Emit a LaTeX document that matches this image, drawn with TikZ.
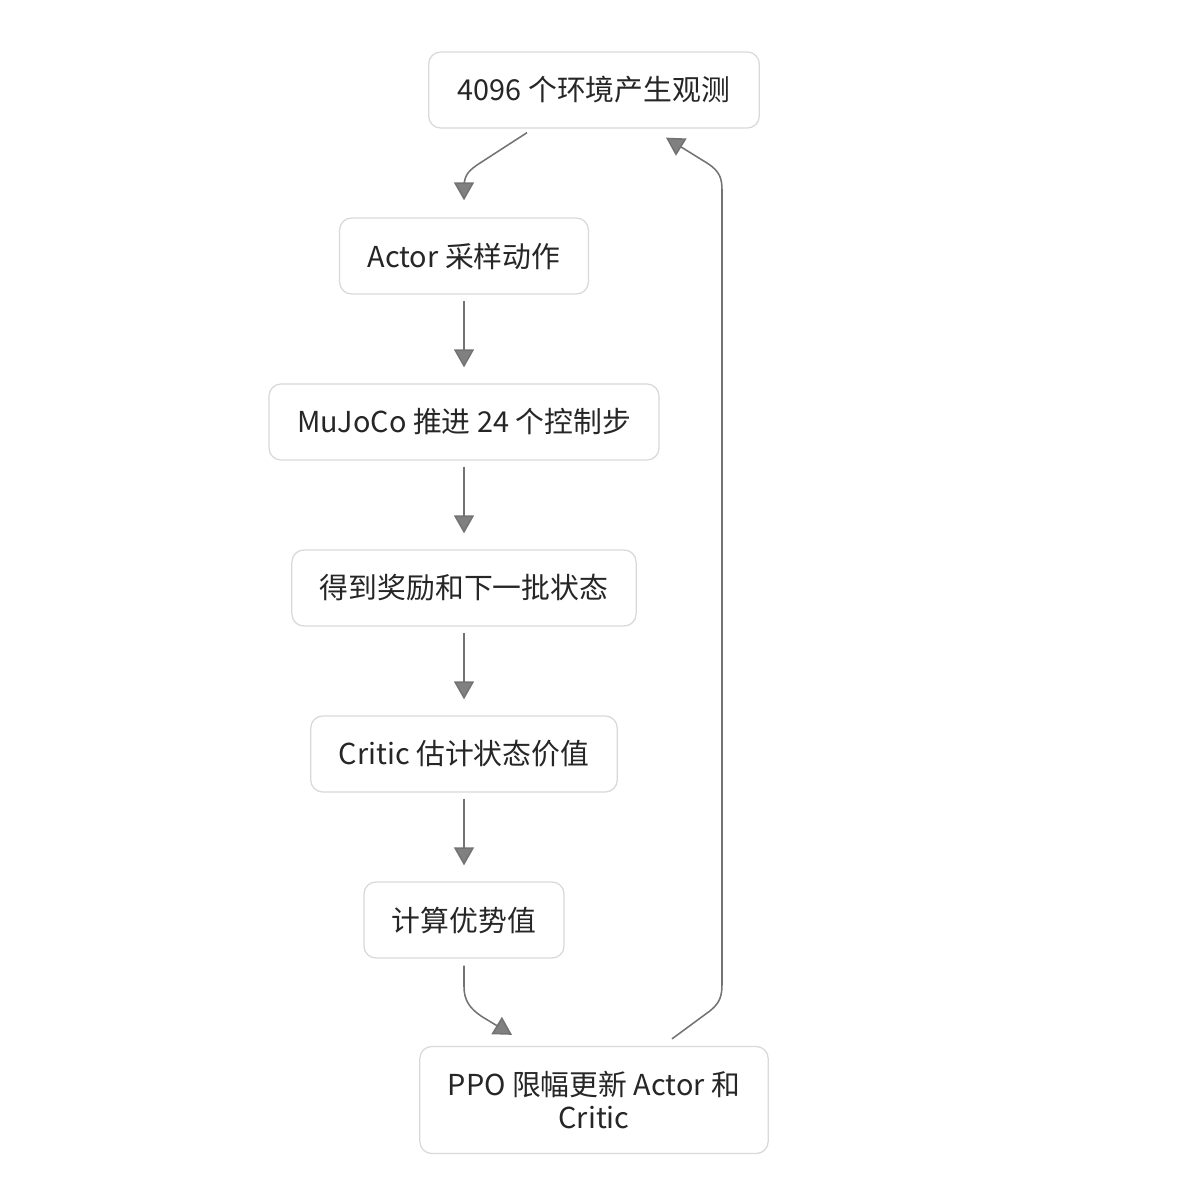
\documentclass[tikz,border=0pt]{standalone}
\usepackage{fontspec}
\setmainfont{Noto Sans CJK SC}
\usepackage{tikz}
\usetikzlibrary{positioning,calc,arrows.meta}

\begin{document}
\begin{tikzpicture}[x=0.025cm,y=-0.025cm,
        box/.style={draw=black!15, line width=0.9pt, fill=white, rounded corners=0.3cm,
            minimum height=1.9cm, inner xsep=0.7cm, font=\fontsize{20.5pt}{23pt}\selectfont,
            text=black!85},
        flow/.style={draw=black!55, line width=1.1pt,
            -{Triangle[width=0.5cm,length=0.45cm,fill=black!50]}}]
        \useasboundingbox (0,0) rectangle (1177,1200);

        % steps of one training round
        \node[box, inner xsep=0.73cm] (obs) at (594,90) {4096 个环境产生观测};
        \node[box] (actor) at (464,256) {Actor 采样动作};
        \node[box] (mujoco) at (464,422) {MuJoCo 推进 24 个控制步};
        \node[box] (reward) at (464,588) {得到奖励和下一批状态};
        \node[box] (critic) at (464,754) {Critic 估计状态价值};
        \node[box] (adv) at (464,920) {计算优势值};
        \node[box, minimum height=2.675cm, align=center] (ppo) at (594,1100) {PPO 限幅更新 Actor 和\\Critic};

        \draw[flow] ($(obs.south)+(-67,4)$) -- ($(actor.north)+(14,-53)$)
            .. controls ($(actor.north)+(2,-45)$) and ($(actor.north)+(0,-40)$) .. ($(actor.north)+(0,-28)$)
            -- ($(actor.north)+(0,-17)$);
        \draw[flow, shorten <=0.15cm, shorten >=0.4cm] (actor) -- (mujoco);
        \draw[flow, shorten <=0.15cm, shorten >=0.4cm] (mujoco) -- (reward);
        \draw[flow, shorten <=0.15cm, shorten >=0.4cm] (reward) -- (critic);
        \draw[flow, shorten <=0.15cm, shorten >=0.4cm] (critic) -- (adv);
        \draw[flow] ($(adv.south)+(0,7)$) -- ($(adv.south)+(0,28)$)
            .. controls ($(adv.south)+(0,42)$) and ($(adv.south)+(6,50)$) .. ($(adv.south)+(18,58)$)
            -- ($(ppo.north)+(-82,-11)$);
        \draw[flow] ($(ppo.north)+(78,-7)$) -- ($(ppo.north)+(116,-35)$)
            .. controls ($(ppo.north)+(126,-43)$) and ($(ppo.north)+(128,-50)$) .. ($(ppo.north)+(128,-62)$)
            -- ($(obs.south)+(128,62)$)
            .. controls ($(obs.south)+(128,50)$) and ($(obs.south)+(126,43)$) .. ($(obs.south)+(114,35)$)
            -- ($(obs.south)+(72,9)$);
\end{tikzpicture}
\end{document}
